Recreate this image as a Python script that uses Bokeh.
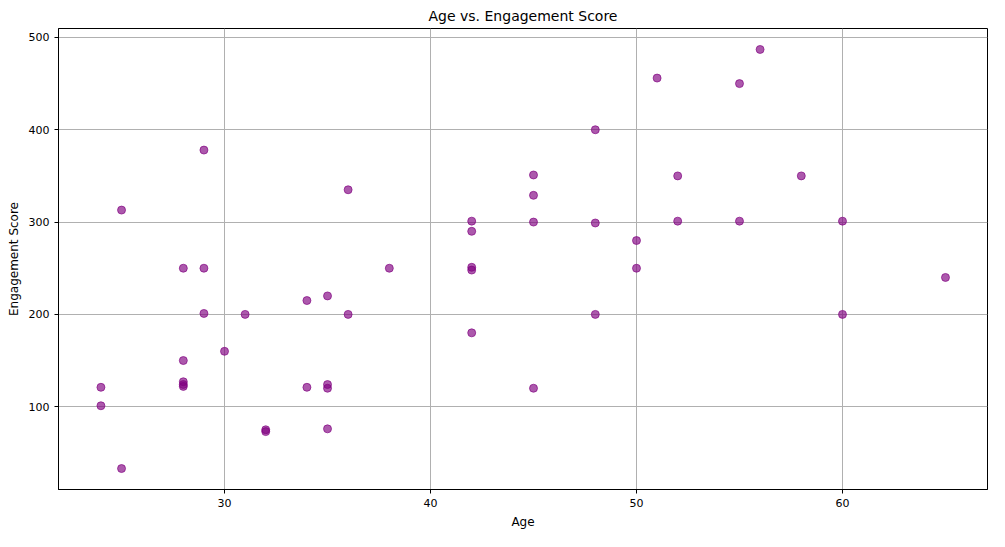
from bokeh.plotting import figure
from bokeh.models import Range1d
from bokeh.embed import file_html
from bokeh.resources import INLINE

age = [24, 24, 25, 25, 28, 28, 28, 28, 28, 29, 29, 29, 30, 31, 32, 32, 34, 34, 35, 35, 35, 35,
       36, 36, 38, 42, 42, 42, 42, 42, 45, 45, 45, 45, 48, 48, 48, 50, 50, 51, 52, 52, 55, 55,
       56, 58, 60, 60, 65]
score = [121, 101, 313, 33, 250, 150, 127, 124, 122, 378, 250, 201, 160, 200, 75, 73, 215, 121,
         220, 124, 120, 76, 335, 200, 250, 301, 290, 251, 248, 180, 351, 329, 300, 120, 400, 299,
         200, 280, 250, 456, 350, 301, 450, 301, 487, 350, 301, 200, 240]

p = figure(width=989, height=531, output_backend="svg", toolbar_location=None,
           title="Age vs. Engagement Score", x_axis_label="Age", y_axis_label="Engagement Score",
           x_range=Range1d(21.94, 67.04), y_range=Range1d(10.3, 509.7),
           min_border_left=58, min_border_right=2, min_border_top=26, min_border_bottom=37)
p.scatter(age, score, size=8, fill_color="purple", line_color="purple", fill_alpha=0.65, line_alpha=0.65)

p.title.align = "center"
p.title.text_font = "DejaVu Sans"
p.title.text_font_style = "normal"
p.title.text_font_size = "14px"
p.title.text_color = "black"
for ax in (p.xaxis, p.yaxis):
    ax.axis_label_text_font = "DejaVu Sans"
    ax.axis_label_text_font_style = "normal"
    ax.axis_label_text_font_size = "12px"
    ax.axis_label_text_color = "black"
    ax.major_label_text_font = "DejaVu Sans"
    ax.major_label_text_font_size = "11px"
    ax.major_label_text_color = "black"
    ax.minor_tick_line_color = None
    ax.major_tick_in = 0
    ax.major_tick_out = 4
    ax.axis_line_color = "black"
    ax.major_tick_line_color = "black"
p.xaxis.ticker = [30, 40, 50, 60]
p.yaxis.ticker = [100, 200, 300, 400, 500]
p.grid.grid_line_color = "#b0b0b0"
p.grid.grid_line_alpha = 1
p.outline_line_color = "black"
p.outline_line_alpha = 1

open("out.html", "w").write(file_html(p, INLINE))
